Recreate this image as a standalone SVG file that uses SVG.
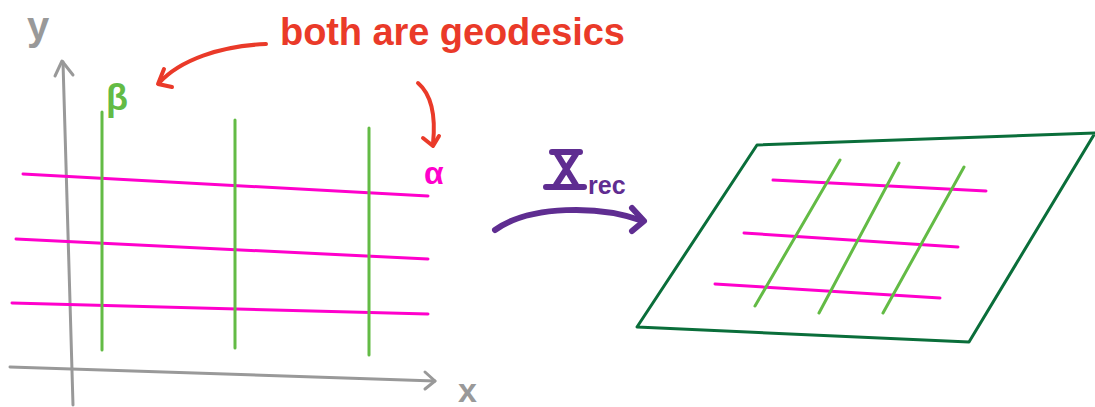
<svg xmlns="http://www.w3.org/2000/svg" width="1095" height="407" viewBox="0 0 1095 407">
<style>
.ax{stroke:#999;stroke-width:3;fill:none;stroke-linecap:round;stroke-linejoin:round}
.mg{stroke:#ff00cc;stroke-width:3;fill:none;stroke-linecap:round}
.gr{stroke:#63bb45;stroke-width:3;fill:none;stroke-linecap:round}
.rd{stroke:#ea3a29;stroke-width:4;fill:none;stroke-linecap:round;stroke-linejoin:round}
.pu{stroke:#5f2d91;stroke-width:6;fill:none;stroke-linecap:round;stroke-linejoin:round}
.t{font-family:"Liberation Sans",Arial,sans-serif;font-weight:bold}
</style>
<rect width="1095" height="407" fill="#fff"/>
<g id="axes">
<path class="ax" d="M73,405 L63,62"/>
<path class="ax" d="M55,76 L62,61 L73,75"/>
<path class="ax" d="M10,367 L435,381"/>
<path class="ax" d="M425,372 L435,381 L425,389"/>
<text class="t" x="27" y="40" font-size="40" fill="#999">y</text>
<text class="t" x="458" y="402" font-size="34" fill="#999">x</text>
</g>
<g id="left-grid">
<path class="mg" d="M23,174 L428,196"/>
<path class="mg" d="M16,239 L428,259"/>
<path class="mg" d="M12,303 L428,314"/>
<path class="gr" d="M102,112 L102,350"/>
<path class="gr" d="M235,120 L235,348"/>
<path class="gr" d="M369,128 L369,355"/>
<text class="t" x="106" y="110" font-size="36" fill="#63bb45">β</text>
<text class="t" x="424" y="184" font-size="32" fill="#ff00cc">α</text>
</g>
<g id="annotation">
<text class="t" x="280" y="45" font-size="38" fill="#ea3a29" textLength="345" lengthAdjust="spacing">both are geodesics</text>
</g>
<g id="connectors">
<path class="rd" d="M266,44 C220,46 180,60 159,83"/>
<path class="rd" d="M164,69 L158,84 L172,87"/>
<path class="rd" d="M418,83 C432,95 436,115 433,144"/>
<path class="rd" d="M423,138 L433,146 L439,136"/>
<path class="pu" d="M495,230 C530,205 600,205 643,221"/>
<path class="pu" d="M632,208 L644,221 L632,231"/>
</g>
<g id="map-label">
<path class="pu" d="M552,152 L580,152 M546,187 L584,187 M557,154 L576,185 M576,154 L556,185" stroke-width="5"/>
<text class="t" x="588" y="194" font-size="25" fill="#5f2d91">rec</text>
</g>
<g id="surface">
<path d="M757,145 L1095,133 L969,342 L637,327 Z" fill="none" stroke="#0a6e3a" stroke-width="3" stroke-linejoin="round"/>
<path class="mg" d="M773,180 L986,191"/>
<path class="mg" d="M744,233 L958,247"/>
<path class="mg" d="M715,284 L940,298"/>
<path class="gr" d="M840,160 L755,306"/>
<path class="gr" d="M899,163 L819,313"/>
<path class="gr" d="M964,167 L883,313"/>
</g>
</svg>
